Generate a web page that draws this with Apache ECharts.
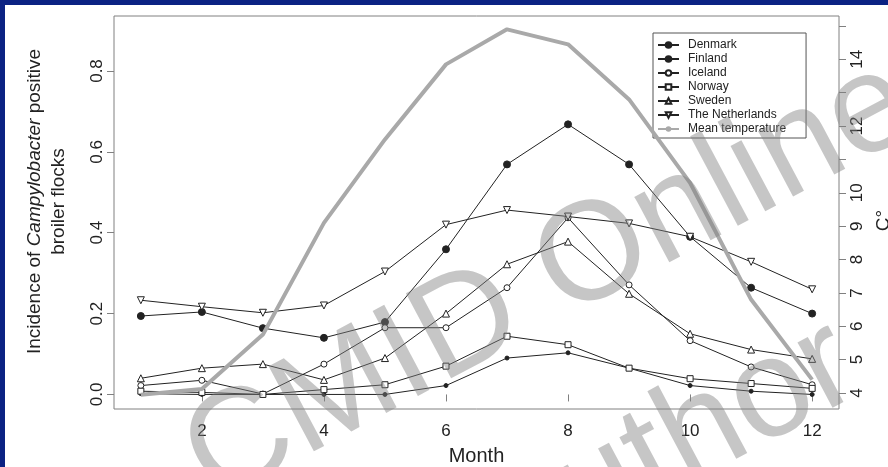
<!DOCTYPE html>
<html><head><meta charset="utf-8">
<script src="https://cdn.jsdelivr.net/npm/echarts@6/dist/echarts.min.js"></script>
<style>
html,body{margin:0;padding:0;background:#0b2283;overflow:hidden;}
#frame{position:absolute;left:5px;top:5px;width:883px;height:462px;background:#fff;}
#chart{position:absolute;left:0;top:0;width:888px;height:467px;}
</style></head><body>
<div id="frame"></div>
<div id="chart"></div>
<script>
var months = [1,2,3,4,5,6,7,8,9,10,11,12];
var denmark     = [0.194,0.204,0.164,0.140,0.179,0.359,0.569,0.668,0.569,0.390,0.264,0.200];
var finland     = [0.002,0.000,0.000,0.000,0.000,0.022,0.090,0.103,0.065,0.022,0.008,0.000];
var iceland     = [0.022,0.035,0.001,0.075,0.165,0.165,0.264,0.437,0.271,0.133,0.068,0.024];
var norway      = [0.008,0.005,0.000,0.012,0.024,0.070,0.144,0.123,0.065,0.039,0.027,0.015];
var sweden      = [0.040,0.065,0.075,0.036,0.090,0.200,0.322,0.378,0.249,0.150,0.111,0.088];
var netherlands = [0.233,0.217,0.202,0.220,0.304,0.420,0.456,0.440,0.423,0.390,0.328,0.260];
var temperature = [3.95,4.12,5.75,9.1,11.6,13.85,14.9,14.45,12.8,10.3,6.8,4.4];
var xTicks = [2,4,6,8,10,12];
var yTicks = [0,0.2,0.4,0.6,0.8];
var tTicks = [4,5,6,7,8,9,10,11,12,13,14,15];
var tLabels = [4,5,6,7,8,9,10,12,14];

function pairs(v){ return months.map(function(m,i){ return [m, v[i]]; }); }
var FONT = 'Liberation Sans';
var INK = '#222';
var AX = '#808080';
var WM = 'rgba(128,128,128,0.45)';

var chart = echarts.init(document.getElementById('chart'), null, {renderer:'canvas'});
function lineSeries(name, data, symbol, size, filled, rot){
  return {
    name: name, type: 'line', yAxisIndex: 0, data: pairs(data),
    symbol: symbol, symbolSize: size, symbolRotate: rot || 0, showSymbol: true,
    lineStyle: {color: INK, width: 1},
    itemStyle: {color: filled ? INK : '#fff', borderColor: INK, borderWidth: 1},
    emphasis: {disabled: true}, z: 3
  };
}
var option = {
  animation: false,
  textStyle: {fontFamily: FONT},
  grid: {left: 114, right: 49, top: 16, bottom: 58, show: true, borderColor: AX, borderWidth: 1,
    backgroundColor: 'transparent', outerBoundsMode: 'none', containLabel: false},
  xAxis: {
    type: 'value', min: 0.56, max: 12.44,
    splitLine: {show: false}, axisLine: {show: false},
    axisTick: {show: true, length: 7, lineStyle: {color: AX}, customValues: xTicks},
    axisLabel: {customValues: xTicks, fontSize: 17, color: INK, margin: 14, fontFamily: FONT},
    name: 'Month', nameLocation: 'middle', nameGap: 37,
    nameTextStyle: {fontSize: 20, color: INK, fontFamily: FONT}
  },
  yAxis: [{
    type: 'value', min: -0.036, max: 0.936, position: 'left',
    splitLine: {show: false}, axisLine: {show: false},
    axisTick: {show: true, length: 7, lineStyle: {color: AX}, customValues: yTicks},
    axisLabel: {customValues: yTicks, rotate: 90, fontSize: 17, color: INK, margin: 8, fontFamily: FONT,
      formatter: function(v){ return v.toFixed(1); }},
    name: 'Incidence of {i|Campylobacter} positive\nbroiler flocks',
    nameLocation: 'middle', nameRotate: 90, nameGap: 43,
    nameTextStyle: {fontSize: 19, color: INK, fontFamily: FONT, lineHeight: 24, align: 'center',
      padding: [0, 0, 0, 22],
      rich: {i: {fontStyle: 'italic', fontSize: 19, fontFamily: FONT, color: INK, lineHeight: 24}}}
  },{
    type: 'value', min: 3.52, max: 15.3, position: 'right',
    splitLine: {show: false}, axisLine: {show: false},
    axisTick: {show: true, length: 7, lineStyle: {color: AX}, customValues: tTicks},
    axisLabel: {customValues: tLabels, rotate: 90, fontSize: 17, color: INK, margin: 10, fontFamily: FONT},
    name: 'C°', nameLocation: 'middle', nameRotate: 90, nameGap: 22,
    nameTextStyle: {fontSize: 19, color: INK, fontFamily: FONT, padding: [0, 16, 0, 0]}
  }],
  legend: {
    orient: 'vertical', left: 653, top: 33,
    padding: [6, 20, 3, 4], itemGap: 2, itemWidth: 21, itemHeight: 7,
    borderColor: '#555', borderWidth: 1, borderRadius: 0, backgroundColor: '#fff',
    textStyle: {fontSize: 12, color: INK, fontFamily: FONT, lineHeight: 12, padding: [0,0,0,4]},
    data: ['Denmark','Finland','Iceland','Norway','Sweden','The Netherlands','Mean temperature']
  },
  series: [
    lineSeries('Denmark', denmark, 'circle', 7, true),
    lineSeries('Finland', finland, 'circle', 4, true),
    lineSeries('Iceland', iceland, 'circle', 6, false),
    lineSeries('Norway', norway, 'rect', 6, false),
    lineSeries('Sweden', sweden, 'triangle', 7, false),
    lineSeries('The Netherlands', netherlands, 'triangle', 7, false, 180),
    {
      name: 'Mean temperature', type: 'line', yAxisIndex: 1, data: pairs(temperature),
      showSymbol: false, symbol: 'none', lineStyle: {color: '#a9a9a9', width: 4},
      itemStyle: {color: '#a9a9a9'}, emphasis: {disabled: true}, z: 4
    }
  ],
  graphic: [
    {type: 'text', x: 550, y: 282, rotation: 28 * Math.PI / 180, z: 100, silent: true,
      style: {text: 'CMID Online', fontSize: 140, fontFamily: FONT, fill: WM, align: 'center', verticalAlign: 'middle'}},
    {type: 'text', x: 665, y: 453, rotation: 28 * Math.PI / 180, z: 100, silent: true,
      style: {text: 'Author', fontSize: 140, fontFamily: FONT, fill: WM, align: 'center', verticalAlign: 'middle'}}
  ]
};
chart.setOption(option);
</script>
</body></html>
